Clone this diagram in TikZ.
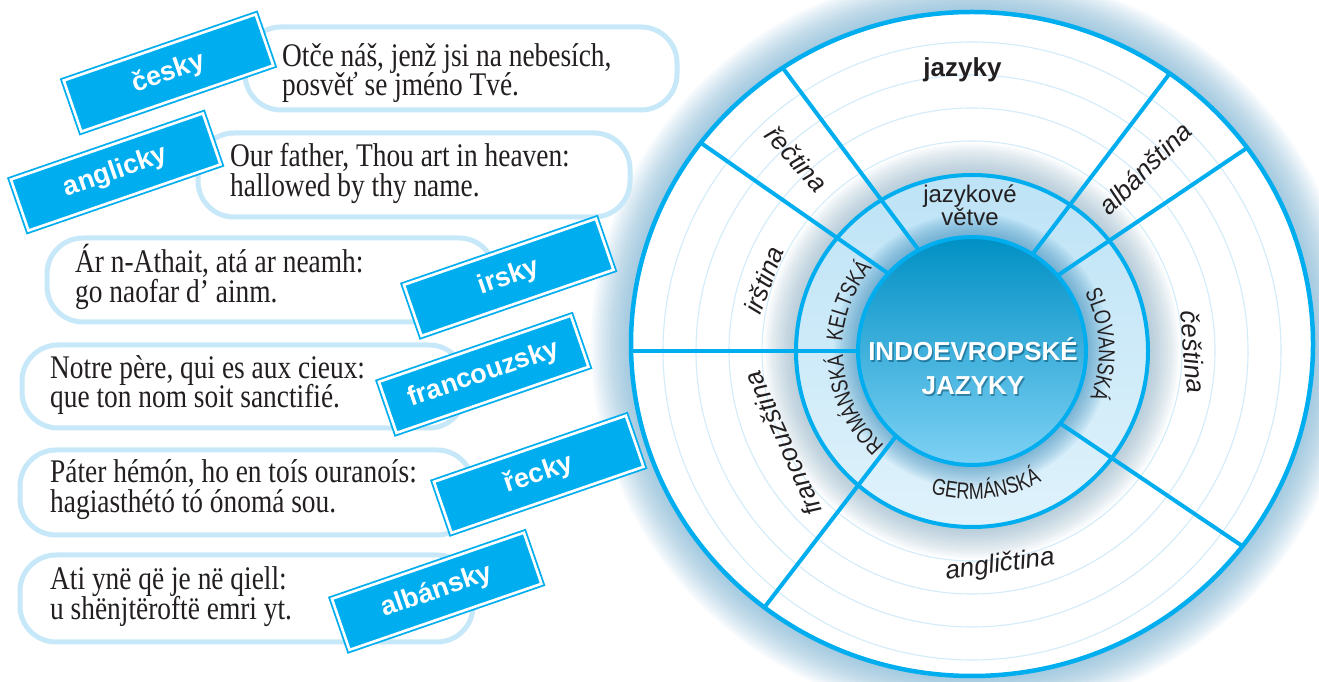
\documentclass[tikz,border=0pt]{standalone}
\usepackage{fontspec}
\setmainfont{Liberation Serif}
\setsansfont{Liberation Sans}
\newfontfamily\bubblefont[FakeStretch=0.83]{Liberation Serif}
\newfontfamily\ringfont[FakeStretch=0.78]{Liberation Sans}
\usetikzlibrary{decorations.text,calc}
\definecolor{cyanB}{HTML}{00AEEF}
\definecolor{bubbleB}{HTML}{C7E8F8}
\definecolor{ringTop}{HTML}{BDE3F6}
\definecolor{ringBot}{HTML}{DFF2FB}
\definecolor{coreTop}{HTML}{0090C4}
\definecolor{coreMid}{HTML}{05A6DC}
\definecolor{coreBot}{HTML}{7FD1F4}
\definecolor{glowOut}{HTML}{6FAFD2}
\definecolor{glowRing}{HTML}{7FA8C0}
\definecolor{glowCore}{HTML}{2F86B8}
\definecolor{thinC}{HTML}{D2ECF9}
\definecolor{textD}{HTML}{231F20}
\definecolor{shadowC}{HTML}{003A57}
\begin{document}
\begin{tikzpicture}[x=1pt,y=1pt,
  bubble/.style={draw=bubbleB, line width=5pt, fill=white, rounded corners=36pt},
  btext/.style={anchor=base west, inner sep=0pt, text=textD, font=\bubblefont\fontsize{33}{30}\selectfont},
  tag/.style={fill=cyanB, draw=cyanB, double=white, double distance=2.6pt, line width=1.8pt,
    minimum width=203pt, minimum height=54pt, inner sep=0pt, text=white, rotate=19,
    font=\sffamily\bfseries\fontsize{27}{27}\selectfont},
  lab/.style={text=textD, inner sep=0pt, font=\sffamily\itshape\fontsize{26}{26}\selectfont},
  ringlab/.style={text=textD, inner sep=0pt, font=\sffamily\fontsize{24}{24}\selectfont},
  coretext/.style={anchor=base, inner sep=0pt, text=white, font=\sffamily\bfseries\fontsize{26}{26}\selectfont},
  coreshadow/.style={anchor=base, inner sep=0pt, text=shadowC, opacity=0.45, font=\sffamily\bfseries\fontsize{26}{26}\selectfont},
  divider/.style={draw=cyanB, line width=4pt}
]
\useasboundingbox (0,0) rectangle (1319,682);
\fill[white] (0,0) rectangle (1319,682);
\coordinate (C) at (972,331);
\coordinate (OC) at (972,338);

% divider end points (inner on the core, outer on the rim)
\coordinate (l1i) at (916.5,434.8);  \coordinate (l1o) at (785,611.1);
\coordinate (l2i) at (887.5,409);    \coordinate (l2o) at (702.5,538);
\coordinate (l3i) at (858,331);      \coordinate (l3o) at (631,331);
\coordinate (l4i) at (894.2,243.5);  \coordinate (l4o) at (760.4,69.4);
\coordinate (l5i) at (1063.6,256.4); \coordinate (l5o) at (1248.6,131.7);
\coordinate (l6i) at (1061.4,409);   \coordinate (l6o) at (1246.4,533.7);
\coordinate (l7i) at (1034.6,430.5); \coordinate (l7o) at (1168.4,606.8);

% glow around the whole wheel
\foreach \i in {1,...,20}
  \fill[glowOut, opacity=0.045] (OC) ellipse [x radius={341+2*\i}, y radius={332+2*\i}];

% speech bubbles
\draw[bubble] (245,572) rectangle (677,655);
\draw[bubble] (198,465) rectangle (630,549);
\draw[bubble] (47,360) rectangle (495,444);
\draw[bubble] (22,254) rectangle (465,337);
\draw[bubble] (20,147) rectangle (473,232);
\draw[bubble] (20,40) rectangle (473,127);

\node[btext] (b1a) at (282,615) {Otče náš, jenž jsi na nebesích,};
\node[btext] (b1b) at (282,586) {posvěť se jméno Tvé.};
\node[btext] (b2a) at (230,515) {Our father, Thou art in heaven:};
\node[btext] (b2b) at (230,485) {hallowed by thy name.};
\node[btext] (b3a) at (75,409) {Ár n-Athait, atá ar neamh:};
\node[btext] (b3b) at (75,379) {go naofar d’ ainm.};
\node[btext] (b4a) at (50,303) {Notre père, qui es aux cieux:};
\node[btext] (b4b) at (50,274) {que ton nom soit sanctifié.};
\node[btext] (b5a) at (50,199) {Páter hémón, ho en toís ouranoís:};
\node[btext] (b5b) at (50,169) {hagiasthétó tó ónomá sou.};
\node[btext] (b6a) at (50,92) {Ati ynë që je në qiell:};
\node[btext] (b6b) at (50,62) {u shënjtëroftë emri yt.};

% language tags
\node[tag] (tcesky) at (168.5,609) {česky};
\node[tag] (tanglicky) at (115.7,510) {anglicky};
\node[tag] (tirsky) at (508.7,404.7) {irsky};
\node[tag] (tfrancouzsky) at (483.7,307.7) {francouzsky};
\node[tag] (trecky) at (538.7,207.7) {řecky};
\node[tag] (talbansky) at (436.7,90.7) {albánsky};

% wheel
\fill[white] (OC) ellipse [x radius=341, y radius=332];
\foreach \r in {210,243,276,309}
  \draw[thinC, line width=1.1pt] (C) circle (\r);
\foreach \i in {1,...,16}
  \fill[glowRing, opacity=0.045] (C) circle ({176+2*\i});
\shade[top color=ringTop, bottom color=ringBot] (C) circle (176);
\foreach \i in {1,...,12}
  \fill[glowCore, opacity=0.06] (C) circle ({114+2*\i});
\begin{scope}
  \clip (OC) ellipse [x radius=341, y radius=332];
  \foreach \k in {1,...,7}
    \draw[divider] ($(l\k i)!-0.08!(l\k o)$) -- ($(l\k i)!1.08!(l\k o)$);
\end{scope}
\shade[top color=coreTop, middle color=coreMid, bottom color=coreBot] (C) circle (114);
\draw[cyanB, line width=4pt] (C) circle (114);
\draw[cyanB, line width=4pt] (C) circle (176);
\draw[cyanB, line width=4.5pt] (OC) ellipse [x radius=341, y radius=332];

% centre text with a soft shadow
\node[coreshadow] (sha) at (974.3,319.6) {INDOEVROPSKÉ};
\node[coreshadow] (shb) at (974.3,285.6) {JAZYKY};
\node[coretext] (ie1) at (973,321) {INDOEVROPSKÉ};
\node[coretext] (ie2) at (973,287) {JAZYKY};

% branch labels (ring)
\node[ringlab, anchor=base] (vet1) at (970,479) {jazykové};
\node[ringlab, anchor=base] (vet2) at (970,456) {větve};
\path[decorate, decoration={text along path, text align=center, text color=textD,
  text={|\ringfont\fontsize{23}{23}\selectfont|KELTSKÁ}}]
  (C) ++(198:130) arc[start angle=198, end angle=118, radius=130];
\path[decorate, decoration={text along path, text align=center, text color=textD,
  text={|\ringfont\fontsize{23}{23}\selectfont|ROMÁNSKÁ}}]
  (C) ++(250:129) arc[start angle=250, end angle=159, radius=129];
\path[decorate, decoration={text along path, text align=center, text color=textD,
  text={|\ringfont\fontsize{23}{23}\selectfont|SLOVANSKÁ}}]
  (C) ++(50:127) arc[start angle=50, end angle=-44, radius=127];
\path[decorate, decoration={text along path, text align=center, text color=textD,
  text={|\ringfont\fontsize{23}{23}\selectfont|GERMÁNSKÁ}}]
  (C) ++(226:148) arc[start angle=226, end angle=326, radius=148];

% language labels (outer ring)
\node[lab, anchor=base, font=\sffamily\bfseries\fontsize{26}{26}\selectfont] (ljazyky) at (962.5,605) {jazyky};
\node[lab, rotate=-48] (lrec) at (797,523) {řečtina};
\node[lab, rotate=70] (lirs) at (764,402) {irština};
\node[lab, rotate=114] (lfra) at (783,238) {francouzština};
\node[lab, rotate=8, anchor=base] (lang) at (1001,110) {angličtina};
\node[lab, rotate=-85] (lces) at (1193,330) {čeština};
\node[lab, rotate=45] (lalb) at (1145,514) {albánština};
\end{tikzpicture}
\end{document}
